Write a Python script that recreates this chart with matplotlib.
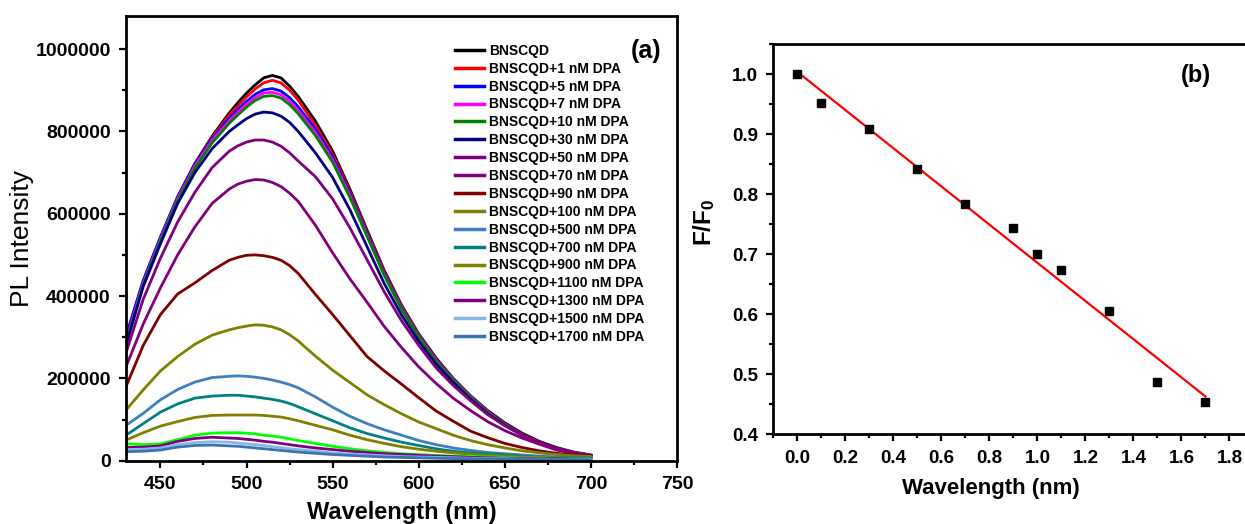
import numpy as np
import matplotlib
matplotlib.use('Agg')
import matplotlib.pyplot as plt
from matplotlib.ticker import MultipleLocator, FormatStrFormatter

plt.rcParams['font.family'] = ['Liberation Sans', 'DejaVu Sans']
plt.rcParams['mathtext.fontset'] = 'custom'
plt.rcParams['mathtext.rm'] = 'Liberation Sans'
plt.rcParams['mathtext.bf'] = 'Liberation Sans:bold'
plt.rcParams['mathtext.default'] = 'bf'

# ---- panel (a): PL spectra (intensity in thousands) ----
wavelength = [430, 440, 450, 460, 470, 480, 490, 495, 500, 505, 510, 515, 520, 525, 530, 540,
              550, 560, 570, 580, 590, 600, 610, 620, 630, 640, 650, 660, 670, 680, 690, 700]

pl_0 = [295, 432, 540, 640, 722, 788, 845, 870, 893, 913, 930, 936, 930, 910, 885, 825,
        752, 660, 560, 462, 378, 308, 250, 200, 158, 122, 92, 67, 47, 32, 21, 14]
pl_1 = [300, 436, 542, 641, 721, 785, 840, 862, 884, 903, 918, 924, 918, 900, 876, 815,
        745, 655, 556, 459, 375, 306, 248, 198, 157, 120, 90, 65, 45, 30, 20, 13]
pl_5 = [302, 438, 543, 641, 720, 782, 832, 853, 873, 890, 901, 904, 898, 882, 860, 805,
        738, 650, 552, 455, 372, 304, 246, 197, 156, 119, 89, 64, 44, 29, 19, 13]
pl_7 = [290, 432, 538, 637, 716, 778, 826, 847, 866, 882, 893, 895, 889, 873, 851, 797,
        731, 645, 548, 452, 370, 302, 244, 196, 155, 118, 88, 63, 43, 28, 19, 13]
pl_10 = [285, 428, 534, 633, 711, 772, 820, 840, 859, 875, 885, 887, 881, 865, 843, 790,
         725, 640, 545, 450, 368, 300, 242, 195, 154, 117, 88, 63, 43, 28, 18, 12]
pl_30 = [280, 423, 527, 625, 700, 758, 800, 816, 831, 842, 847, 845, 837, 822, 800, 748,
         688, 610, 520, 430, 354, 290, 235, 190, 150, 114, 86, 62, 42, 28, 18, 12]
pl_50 = [262, 392, 492, 580, 652, 712, 752, 765, 774, 779, 779, 774, 764, 748, 728, 690,
         636, 566, 488, 410, 340, 280, 226, 183, 146, 112, 85, 62, 44, 30, 20, 13]
pl_70 = [228, 332, 420, 500, 568, 625, 660, 672, 679, 683, 682, 676, 666, 650, 630, 572,
         505, 442, 385, 326, 275, 228, 188, 152, 122, 95, 73, 55, 40, 26, 18, 11]
pl_90 = [180, 280, 355, 405, 432, 462, 487, 494, 499, 500, 498, 494, 487, 474, 455, 404,
         355, 304, 253, 218, 186, 153, 121, 96, 72, 56, 42, 32, 24, 18, 14, 11]
pl_100 = [123, 172, 218, 253, 283, 305, 318, 323, 327, 330, 329, 325, 318, 306, 291, 254,
          220, 190, 160, 136, 114, 94, 78, 62, 49, 39, 31, 24, 19, 15, 12, 10]
pl_500 = [86, 115, 148, 173, 191, 202, 205, 206, 205, 203, 200, 196, 191, 185, 177, 155,
          130, 108, 90, 75, 62, 49, 39, 31, 25, 20, 17, 14, 11, 9, 8, 7]
pl_700 = [62, 90, 118, 138, 152, 157, 159, 159, 157, 155, 152, 149, 145, 139, 131, 114,
          97, 80, 66, 55, 45, 37, 29, 23, 19, 16, 14, 11, 9, 8, 7, 6]
pl_900 = [50, 68, 84, 95, 105, 110, 111, 111, 111, 111, 110, 108, 106, 102, 97, 86,
          75, 62, 51, 42, 34, 28, 23, 19, 16, 13, 11, 9, 8, 7, 6, 5]
pl_1100 = [41, 39, 41, 51, 62, 67, 68, 68, 67, 65, 62, 60, 57, 53, 49, 42,
           35, 29, 24, 20, 17, 15, 13, 11, 10, 9, 8, 7, 6, 6, 5, 5]
pl_1300 = [32, 33, 36, 47, 54, 57, 55, 54, 52, 50, 47, 45, 42, 39, 36, 31,
           27, 23, 20, 17, 15, 13, 11, 10, 8, 7, 6, 6, 5, 5, 4, 4]
pl_1500 = [27, 28, 31, 39, 44, 46, 45, 43, 41, 39, 37, 34, 32, 29, 27, 23,
           19, 16, 14, 12, 10, 9, 8, 7, 6, 5, 5, 4, 4, 3, 3, 3]
pl_1700 = [22, 23, 26, 33, 37, 38, 36, 35, 33, 31, 29, 27, 25, 23, 21, 18,
           15, 13, 11, 9, 8, 7, 6, 5, 5, 4, 4, 3, 3, 3, 3, 2]

labels = ['BNSCQD', 'BNSCQD+1 nM DPA', 'BNSCQD+5 nM DPA', 'BNSCQD+7 nM DPA',
          'BNSCQD+10 nM DPA', 'BNSCQD+30 nM DPA', 'BNSCQD+50 nM DPA',
          'BNSCQD+70 nM DPA', 'BNSCQD+90 nM DPA', 'BNSCQD+100 nM DPA',
          'BNSCQD+500 nM DPA', 'BNSCQD+700 nM DPA', 'BNSCQD+900 nM DPA',
          'BNSCQD+1100 nM DPA', 'BNSCQD+1300 nM DPA', 'BNSCQD+1500 nM DPA',
          'BNSCQD+1700 nM DPA']
spectra = [pl_0, pl_1, pl_5, pl_7, pl_10, pl_30, pl_50, pl_70, pl_90, pl_100,
           pl_500, pl_700, pl_900, pl_1100, pl_1300, pl_1500, pl_1700]
colors = ['#000000', '#ff0000', '#0000ff', '#ff00ff', '#008000', '#000080',
          '#800080', '#800080', '#800000', '#808000', '#3d7fbf', '#008080',
          '#808000', '#00ff00', '#800080', '#88b8e0', '#3a72b2']

# ---- panel (b): F/F0 vs concentration ----
conc = [0.0, 0.1, 0.3, 0.5, 0.7, 0.9, 1.0, 1.1, 1.3, 1.5, 1.7]
ratio = [1.000, 0.952, 0.909, 0.842, 0.783, 0.744, 0.701, 0.673, 0.605, 0.487, 0.453]

fig = plt.figure(figsize=(12.45, 5.24), dpi=100)

def style_axes(ax, size):
    for s in ax.spines.values():
        s.set_linewidth(2.0)
    ax.tick_params(which='major', direction='out', length=5, width=1.6,
                   labelsize=size, pad=6)
    ax.tick_params(which='minor', direction='out', length=3, width=1.6)
    for lab in ax.get_xticklabels() + ax.get_yticklabels():
        lab.set_fontweight('bold')

# left panel
ax1 = fig.add_axes([0.1012, 0.1208, 0.4426, 0.8492])
wl = np.array(wavelength)
for y, lab, c in zip(spectra, labels, colors):
    ax1.plot(wl, np.array(y) * 1000, color=c, lw=2.0, label=lab)
ax1.set_xlim(430, 750)
ax1.set_ylim(0, 1081000)
ax1.xaxis.set_major_locator(MultipleLocator(50))
ax1.xaxis.set_minor_locator(MultipleLocator(25))
ax1.yaxis.set_major_locator(MultipleLocator(200000))
ax1.yaxis.set_minor_locator(MultipleLocator(100000))
ax1.ticklabel_format(axis='y', style='plain')
style_axes(ax1, 14)
ax1.set_xlabel('Wavelength (nm)', fontsize=17, fontweight='bold', labelpad=6)
ax1.set_ylabel('PL Intensity', fontsize=19)
ax1.yaxis.set_label_coords(-0.167, 0.5)
leg = ax1.legend(loc='upper left', bbox_to_anchor=(0.597, 0.937), frameon=False,
                 prop={'size': 10, 'weight': 'bold'}, handlelength=2.1,
                 handletextpad=0.36, labelspacing=0.28, borderpad=0,
                 borderaxespad=0)
for h in leg.get_lines():
    h.set_linewidth(2.5)
ax1.text(0.944, 0.921, '(a)', transform=ax1.transAxes, fontsize=18,
         fontweight='bold', ha='center', va='center')

# right panel
ax2 = fig.add_axes([0.6211, 0.1712, 0.3857, 0.7443])
ax2.plot(conc, ratio, 's', color='black', ms=6, zorder=3)
k, b = np.polyfit(conc, ratio, 1)
xf = np.array([conc[0], conc[-1]])
ax2.plot(xf, k * xf + b, color='#ff0000', lw=1.6, zorder=2)
ax2.set_xlim(-0.1, 1.9)
ax2.set_ylim(0.4, 1.05)
ax2.xaxis.set_major_locator(MultipleLocator(0.2))
ax2.xaxis.set_minor_locator(MultipleLocator(0.1))
ax2.yaxis.set_major_locator(MultipleLocator(0.1))
ax2.yaxis.set_minor_locator(MultipleLocator(0.05))
ax2.xaxis.set_major_formatter(FormatStrFormatter('%.1f'))
ax2.yaxis.set_major_formatter(FormatStrFormatter('%.1f'))
style_axes(ax2, 13.5)
ax2.set_xlabel('Wavelength (nm)', fontsize=16, fontweight='bold')
ax2.xaxis.set_label_coords(0.453, -0.112)
ax2.set_ylabel('F/F$_0$', fontsize=17.5, fontweight='bold')
ax2.yaxis.set_label_coords(-0.118, 0.544)
ax2.text(0.880, 0.919, '(b)', transform=ax2.transAxes, fontsize=17,
         fontweight='bold', ha='center', va='center')

fig.savefig('out.png', dpi=100)
